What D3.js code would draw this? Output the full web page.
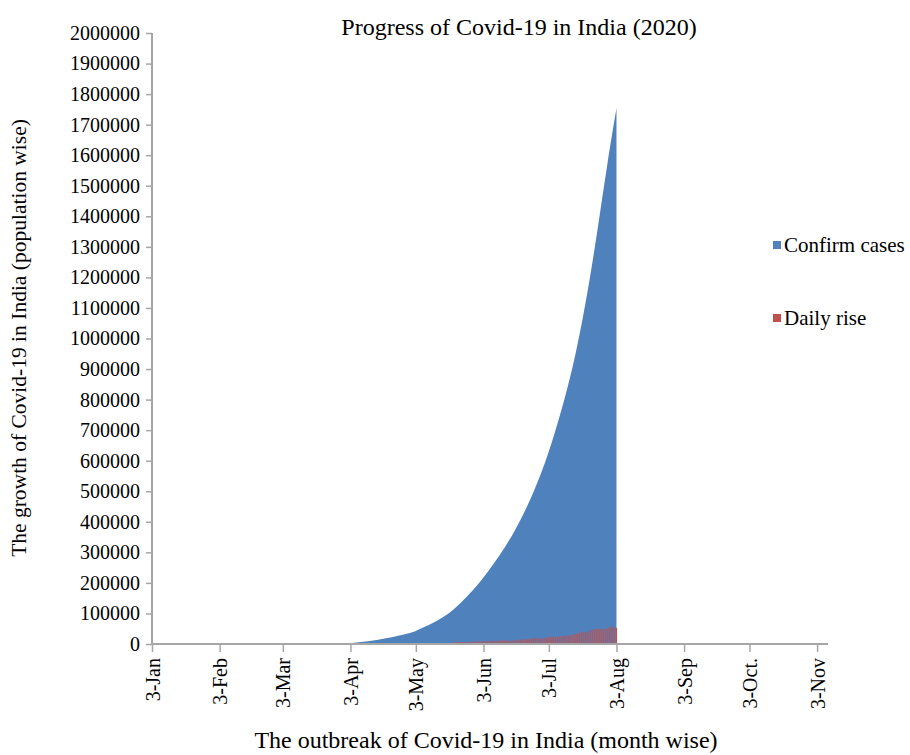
<!DOCTYPE html>
<html>
<head>
<meta charset="utf-8">
<script src="https://cdn.jsdelivr.net/npm/d3@7"></script>
<style>
body { margin: 0; background: #fff; }
text { font-family: "Liberation Serif", "Times New Roman", serif; fill: #000; }
</style>
</head>
<body>
<div id="chart"></div>
<script>
// cumulative confirmed cases (read from the area)
const caseDates = ["2020-04-01", "2020-04-10", "2020-04-20", "2020-04-30", "2020-05-03", "2020-05-04",
    "2020-05-10", "2020-05-15", "2020-05-20", "2020-05-25", "2020-05-31", "2020-06-05", "2020-06-10",
    "2020-06-15", "2020-06-20", "2020-06-25", "2020-06-30", "2020-07-05", "2020-07-10", "2020-07-15",
    "2020-07-20", "2020-07-25", "2020-07-30", "2020-08-03"];
const caseValues = [2000, 7600, 18500, 34900, 42500, 46400,
    65000, 85000, 110000, 145000, 190000, 236000, 286000,
    340000, 405000, 480000, 567000, 673000, 794000, 936000,
    1118000, 1337000, 1584000, 1754000];

// daily rise, one bar per day from 20 May to 3 Aug
const riseStart = "2020-05-20";
const riseValues = [5600, 5600, 6100, 6600, 6800, 6900, 6500, 6400, 7200, 7500, 8000, 8400,
    8400, 8200, 8900, 9300, 9900, 10400, 10000, 9900, 9900, 11000, 10900, 11400, 11900, 11500,
    10700, 10700, 13000, 12900, 13600, 14500, 15400, 14800, 15700, 16900, 17300, 18600, 19900,
    19400, 18500, 18700,
    19100, 20900, 22700, 22800, 24800, 22200, 22700, 25600, 25800, 27100, 27800, 28600, 28200,
    28500, 32700, 34900, 34900, 38900, 38900, 40400, 37100, 45700, 45700, 49300, 48900, 48700,
    49900, 47700, 48500, 52100, 55100,
    57100, 54700, 52900];

const tickDates = ["2020-01-03", "2020-02-03", "2020-03-03", "2020-04-03", "2020-05-03", "2020-06-03",
    "2020-07-03", "2020-08-03", "2020-09-03", "2020-10-03", "2020-11-03"];
const tickLabels = ["3-Jan", "3-Feb", "3-Mar", "3-Apr", "3-May", "3-Jun", "3-Jul", "3-Aug", "3-Sep", "3-Oct.", "3-Nov"];
const yTicks = d3.range(0, 2000001, 100000);

const seriesNames = ["Confirm cases", "Daily rise"];
const colors = ["#4f81bd", "#c0504d"];

const width = 910,
    height = 755;

const parse = d3.timeParse("%Y-%m-%d");

const cases = caseDates.map(function(d, i) { return { date: parse(d), value: caseValues[i] }; });
const rise = riseValues.map(function(v, i) { return { date: d3.timeDay.offset(parse(riseStart), i), value: v }; });

const x = d3.scaleTime()
    .domain([parse("2020-01-03"), parse("2020-11-08")])
    .range([152, 828]);

const y = d3.scaleLinear()
    .domain([0, 2000000])
    .range([644, 33]);

const svg = d3.select("#chart").append("svg")
    .attr("width", width)
    .attr("height", height);

// area
const area = d3.area()
    .curve(d3.curveBasis)
    .x(function(d) { return x(d.date); })
    .y0(y(0))
    .y1(function(d) { return y(d.value); });

svg.append("path")
    .datum(cases)
    .attr("d", area)
    .attr("fill", colors[0]);

// daily bars
svg.append("g")
    .selectAll("rect")
    .data(rise)
    .enter().append("rect")
    .attr("x", function(d) { return x(d.date) - 0.6; })
    .attr("width", 1.2)
    .attr("y", function(d) { return y(d.value); })
    .attr("height", function(d) { return y(0) - y(d.value); })
    .attr("fill", colors[1]);

// y axis
const yAxis = d3.axisLeft(y)
    .tickValues(yTicks)
    .tickSize(8)
    .tickPadding(4)
    .tickFormat(d3.format("d"));

const gy = svg.append("g")
    .attr("transform", "translate(152,0)")
    .call(yAxis);
gy.select(".domain").attr("stroke", "#a6a6a6").attr("stroke-width", 2).attr("d", "M0,33V645");
gy.selectAll(".tick line").attr("stroke", "#a6a6a6").attr("stroke-width", 1.5).attr("x2", -6);
gy.selectAll(".tick text")
    .attr("x", -12)
    .style("font-size", "20px")
    .style("font-family", "Liberation Serif");

// x axis
const xAxis = d3.axisBottom(x)
    .tickValues(tickDates.map(parse))
    .tickSize(8)
    .tickFormat(function(d, i) { return tickLabels[i]; });

const gx = svg.append("g")
    .attr("transform", "translate(0,644)")
    .call(xAxis);
gx.select(".domain").attr("stroke", "#a6a6a6").attr("stroke-width", 2).attr("d", "M151,0H828");
gx.selectAll(".tick line").attr("stroke", "#a6a6a6").attr("stroke-width", 1.5);
gx.selectAll(".tick text")
    .attr("transform", "rotate(-90)")
    .attr("text-anchor", "end")
    .attr("x", -14)
    .attr("y", 0)
    .attr("dy", "0.35em")
    .style("font-size", "20px")
    .style("font-family", "Liberation Serif");

// titles
svg.append("text")
    .attr("x", 519)
    .attr("y", 35)
    .attr("text-anchor", "middle")
    .style("font-size", "24px")
    .text("Progress of Covid-19 in India (2020)");

svg.append("text")
    .attr("transform", "translate(26,338) rotate(-90)")
    .attr("text-anchor", "middle")
    .style("font-size", "21.5px")
    .text("The growth of Covid-19 in India (population wise)");

svg.append("text")
    .attr("x", 486)
    .attr("y", 748)
    .attr("text-anchor", "middle")
    .style("font-size", "24px")
    .text("The outbreak of Covid-19 in India (month wise)");

// legend
const legend = svg.append("g")
    .selectAll("g")
    .data(seriesNames)
    .enter().append("g")
    .attr("transform", function(d, i) { return "translate(773," + (245 + i * 73) + ")"; });

legend.append("rect")
    .attr("x", 0)
    .attr("y", -4)
    .attr("width", 8)
    .attr("height", 8)
    .attr("fill", function(d, i) { return colors[i]; });

legend.append("text")
    .attr("x", 11)
    .attr("y", 0)
    .attr("dy", "0.35em")
    .style("font-size", "21px")
    .text(function(d) { return d; });
</script>
</body>
</html>
